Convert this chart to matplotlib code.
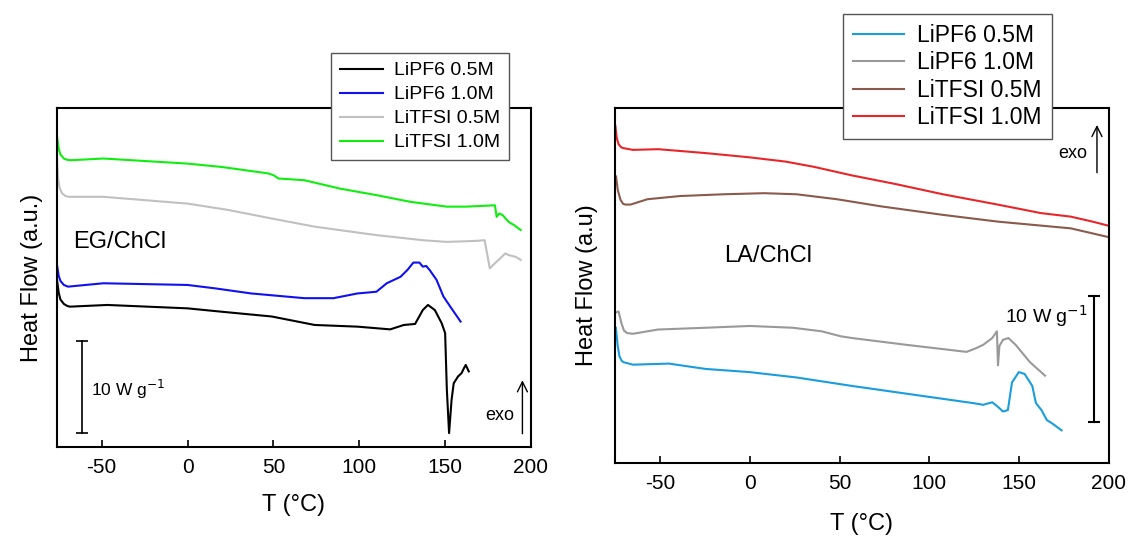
import matplotlib
matplotlib.use("Agg")
import matplotlib.pyplot as plt

plt.rcParams['font.family'] = ['Liberation Sans', 'DejaVu Sans']
plt.rcParams['axes.unicode_minus'] = False

# ---- EG/ChCl panel (y in arbitrary units, 0..100 of the axis height) ----
eg_t_black = [-76, -75, -74, -72, -70, -68.5, -46.7, 0, 20, 49, 74, 99, 118, 126, 132.5, 137, 140, 144,
              148, 150, 151, 152.3, 153.75, 155, 157.5, 159.6, 161, 162, 163.75]
eg_black = [49.3, 45.5, 43.5, 42.2, 41.6, 41.4, 41.9, 40.9, 39.9, 38.5, 36.0, 35.5, 34.7, 36.0, 36.3, 40.4,
            41.9, 40.4, 36.5, 33.6, 16.9, 4.1, 13.9, 18.8, 20.8, 21.8, 23.3, 24.2, 22.3]

eg_t_blue = [-76, -75, -74, -72, -69.6, -49, 0, 16, 37, 68, 85, 99, 110, 116, 124, 128, 131.5, 135, 137,
             139, 141, 145, 149, 153, 159]
eg_blue = [53.7, 50.5, 49.0, 47.8, 47.3, 48.3, 47.8, 46.8, 45.3, 43.9, 43.9, 45.3, 45.8, 48.3, 50.2, 52.2,
           54.4, 54.4, 53.2, 53.4, 52.2, 49.3, 44.4, 41.4, 37.0]

eg_t_gray = [-76, -75.3, -74.5, -73, -71, -69, -49, 0, 24, 49, 74, 110, 137, 151, 168, 173, 176, 179, 183,
             185, 187, 191, 194]
eg_gray = [84.6, 79.0, 76.5, 74.8, 74.0, 73.8, 73.8, 71.8, 69.9, 67.4, 65.0, 62.5, 61.0, 60.5, 60.8, 61.0,
           52.7, 54.2, 56.1, 57.1, 56.6, 56.1, 55.2]

eg_t_green = [-76, -75, -74, -72, -70, -67.5, -49, 0, 20, 47, 50, 53, 68, 89, 110, 130, 151, 162, 179, 180,
              181.5, 183.5, 187, 190, 194]
eg_green = [91.7, 88.0, 86.3, 85.1, 84.7, 84.6, 85.1, 83.6, 82.6, 80.7, 80.2, 79.2, 78.7, 76.2, 74.3, 72.3,
            70.9, 70.9, 71.3, 67.9, 68.9, 68.4, 66.4, 65.5, 64.0]

# ---- LA/ChCl panel ----
la_t_blue = [-74.5, -73.5, -72.5, -71.3, -70.3, -65, -45, -24.6, 0, 26, 57, 97.4, 124, 130, 135, 138, 141,
             143.7, 146, 149.8, 153, 157.3, 159.3, 162.4, 165.4, 168.5, 173.6]
la_blue = [38.1, 33.0, 30.0, 28.8, 28.4, 27.7, 28.0, 26.5, 25.6, 24.1, 21.7, 18.8, 16.9, 16.4, 17.1, 15.9,
           14.5, 14.9, 22.7, 25.6, 25.1, 21.7, 16.9, 14.9, 12.1, 11.1, 9.2]

la_t_gray = [-74.5, -73, -71.5, -70, -68.3, -65, -51, -24.6, 0, 24, 40, 50.6, 57, 87, 120.7, 125.8, 130,
             135, 137.6, 138.2, 139, 141, 144, 148, 156, 164.4]
la_gray = [42.4, 42.7, 39.5, 37.3, 36.6, 36.4, 37.6, 38.1, 38.6, 38.1, 37.1, 35.7, 35.2, 33.3, 31.3, 32.3,
           33.3, 35.2, 37.1, 27.5, 33.0, 34.7, 35.2, 33.3, 28.4, 24.6]

la_t_brown = [-74.4, -73.5, -72, -70.5, -69.3, -66.3, -57, -38.8, -14.4, 8, 26, 48.6, 73, 107.5, 138,
              178.7, 200]
la_brown = [80.7, 77.0, 74.2, 73.0, 72.8, 72.8, 74.3, 75.2, 75.7, 76.0, 75.7, 74.3, 72.3, 69.9, 68.0, 66.1,
            63.6]

la_t_red = [-74.8, -74, -73, -71.5, -70.3, -65, -51, -24.6, 0, 20, 36, 57, 81, 107.5, 138, 162, 178.7,
            190.8, 200]
la_red = [95.0, 91.5, 89.8, 88.9, 88.7, 88.2, 88.4, 87.3, 86.1, 84.9, 83.4, 81.0, 78.6, 75.7, 72.8, 70.4,
          69.4, 68.0, 66.8]

labels = ['LiPF6 0.5M', 'LiPF6 1.0M', 'LiTFSI 0.5M', 'LiTFSI 1.0M']
eg_colors = ['#000000', '#1010f0', '#c0c0c0', '#10ee10']
la_colors = ['#1a9ddc', '#999999', '#8a5a4c', '#e8262a']
xticks = [-50, 0, 50, 100, 150, 200]

W, H = 1132, 536
fig = plt.figure(figsize=(W / 100, H / 100), dpi=100)
ax1 = fig.add_axes([57 / W, 1 - 447 / H, 474 / W, 339 / H])
ax2 = fig.add_axes([615 / W, 1 - 463 / H, 494 / W, 355 / H])


def style(ax, xlim):
    ax.set_xlim(xlim)
    ax.set_ylim(0, 100)
    ax.set_yticks([])
    ax.set_xticks(xticks)
    ax.tick_params(axis='x', direction='in', length=5, width=1.2, labelsize=15, pad=8)
    for s in ax.spines.values():
        s.set_linewidth(1.5)


style(ax1, (-76, 200))
style(ax2, (-75, 200))

eg = [(eg_t_black, eg_black), (eg_t_blue, eg_blue), (eg_t_gray, eg_gray), (eg_t_green, eg_green)]
h1 = []
for (t, y), c, lab in zip(eg, eg_colors, labels):
    l, = ax1.plot(t, y, color=c, lw=1.5, label=lab)
    h1.append(l)

la = [(la_t_blue, la_blue), (la_t_gray, la_gray), (la_t_brown, la_brown), (la_t_red, la_red)]
h2 = []
for (t, y), c, lab in zip(la, la_colors, labels):
    l, = ax2.plot(t, y, color=c, lw=1.5, label=lab)
    h2.append(l)

ax1.set_xlabel('T (°C)', fontsize=17, labelpad=12)
ax1.set_ylabel('Heat Flow (a.u.)', fontsize=17, labelpad=10)
ax2.set_xlabel('T (°C)', fontsize=17, labelpad=14)
ax2.set_ylabel('Heat Flow (a.u)', fontsize=17, labelpad=12)

# annotations, scale bars, exo arrows
ax1.text(-66.5, 60.5, 'EG/ChCl', fontsize=17, va='center')
ax1.plot([-61.25, -61.25], [4.1, 31.3], color='k', lw=1.2, marker='_', ms=9, mew=1.2)
ax1.text(-56, 17, '10 W g$^{-1}$', fontsize=12.5, va='center')
ax1.annotate('', xy=(195, 20.5), xytext=(195, 3.1),
             arrowprops=dict(arrowstyle='->', lw=1.0, color='k', mutation_scale=18))
ax1.text(182, 9.2, 'exo', fontsize=13, ha='center', va='center')

ax2.text(-14.4, 58.3, 'LA/ChCl', fontsize=17, va='center')
ax2.plot([191.9, 191.9], [11.6, 47.0], color='k', lw=1.5, marker='_', ms=9, mew=1.5)
ax2.text(188, 41.5, '10 W g$^{-1}$', fontsize=14, ha='right', va='center')
ax2.annotate('', xy=(193.3, 96), xytext=(193.3, 81),
             arrowprops=dict(arrowstyle='->', lw=1.0, color='k', mutation_scale=18))
ax2.text(179.7, 87.1, 'exo', fontsize=13, ha='center', va='center')

leg_kw = dict(loc='upper left', borderaxespad=0, fancybox=False, framealpha=1,
              handlelength=2.2, borderpad=0.45, handletextpad=0.6)
lg1 = fig.legend(h1, labels, bbox_to_anchor=(331 / W, 1 - 53 / H), fontsize=14,
                 labelspacing=0.33, **leg_kw)
lg2 = fig.legend(h2, labels, bbox_to_anchor=(843 / W, 1 - 14 / H), fontsize=16.5,
                 labelspacing=0.18, **leg_kw)
for lg in (lg1, lg2):
    lg.get_frame().set_edgecolor('#555555')
    lg.get_frame().set_linewidth(1.0)

fig.savefig('out.png', dpi=100)
